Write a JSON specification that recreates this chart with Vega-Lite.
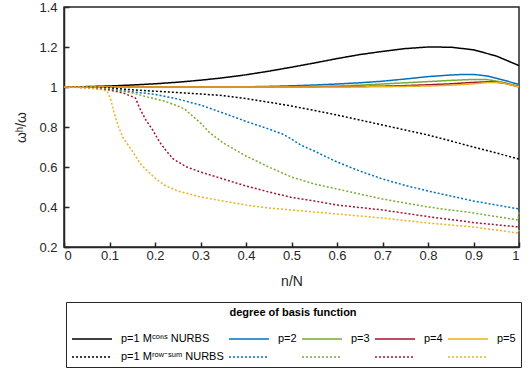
{
"$schema": "https://vega.github.io/schema/vega-lite/v6.json",
"width": 455, "height": 240,
"autosize": {"type": "none"},
"padding": {"left": 64, "top": 7, "right": 11, "bottom": 140},
"background": "white",
"config": {"font": "Liberation Sans", "view": {"stroke": "#262626", "strokeWidth": 1.5},
  "axis": {"domain": true, "ticks": true, "domainColor": "#262626", "tickColor": "#262626", "domainWidth": 1.5, "tickWidth": 1.5, "grid": false}},
"data": {"values": [
{"x":0,"y":1,"s":"c1"},{"x":0.05,"y":1.002,"s":"c1"},{"x":0.1,"y":1.005,"s":"c1"},{"x":0.15,"y":1.01,"s":"c1"},{"x":0.2,"y":1.016,"s":"c1"},{"x":0.25,"y":1.024,"s":"c1"},{"x":0.3,"y":1.034,"s":"c1"},{"x":0.35,"y":1.046,"s":"c1"},{"x":0.4,"y":1.061,"s":"c1"},{"x":0.45,"y":1.079,"s":"c1"},{"x":0.5,"y":1.099,"s":"c1"},{"x":0.55,"y":1.12,"s":"c1"},{"x":0.6,"y":1.142,"s":"c1"},{"x":0.65,"y":1.162,"s":"c1"},{"x":0.7,"y":1.178,"s":"c1"},{"x":0.75,"y":1.192,"s":"c1"},{"x":0.8,"y":1.2,"s":"c1"},{"x":0.85,"y":1.199,"s":"c1"},{"x":0.9,"y":1.186,"s":"c1"},{"x":0.95,"y":1.155,"s":"c1"},{"x":1,"y":1.107,"s":"c1"},
{"x":0,"y":1,"s":"c2"},{"x":0.1,"y":1,"s":"c2"},{"x":0.2,"y":1,"s":"c2"},{"x":0.3,"y":1,"s":"c2"},{"x":0.4,"y":1.001,"s":"c2"},{"x":0.45,"y":1.003,"s":"c2"},{"x":0.5,"y":1.006,"s":"c2"},{"x":0.55,"y":1.01,"s":"c2"},{"x":0.6,"y":1.015,"s":"c2"},{"x":0.65,"y":1.021,"s":"c2"},{"x":0.7,"y":1.029,"s":"c2"},{"x":0.75,"y":1.04,"s":"c2"},{"x":0.8,"y":1.052,"s":"c2"},{"x":0.85,"y":1.06,"s":"c2"},{"x":0.88,"y":1.063,"s":"c2"},{"x":0.9,"y":1.063,"s":"c2"},{"x":0.93,"y":1.055,"s":"c2"},{"x":0.96,"y":1.038,"s":"c2"},{"x":1,"y":1.013,"s":"c2"},
{"x":0,"y":1,"s":"c3"},{"x":0.1,"y":1,"s":"c3"},{"x":0.2,"y":1,"s":"c3"},{"x":0.3,"y":1,"s":"c3"},{"x":0.4,"y":1,"s":"c3"},{"x":0.5,"y":1.001,"s":"c3"},{"x":0.55,"y":1.003,"s":"c3"},{"x":0.6,"y":1.005,"s":"c3"},{"x":0.65,"y":1.009,"s":"c3"},{"x":0.7,"y":1.015,"s":"c3"},{"x":0.75,"y":1.021,"s":"c3"},{"x":0.8,"y":1.027,"s":"c3"},{"x":0.85,"y":1.033,"s":"c3"},{"x":0.9,"y":1.038,"s":"c3"},{"x":0.93,"y":1.037,"s":"c3"},{"x":0.96,"y":1.026,"s":"c3"},{"x":1,"y":1.004,"s":"c3"},
{"x":0,"y":1,"s":"c4"},{"x":0.1,"y":1,"s":"c4"},{"x":0.2,"y":1,"s":"c4"},{"x":0.3,"y":1,"s":"c4"},{"x":0.4,"y":1,"s":"c4"},{"x":0.5,"y":1,"s":"c4"},{"x":0.6,"y":1.001,"s":"c4"},{"x":0.7,"y":1.004,"s":"c4"},{"x":0.75,"y":1.007,"s":"c4"},{"x":0.8,"y":1.011,"s":"c4"},{"x":0.85,"y":1.016,"s":"c4"},{"x":0.9,"y":1.023,"s":"c4"},{"x":0.94,"y":1.027,"s":"c4"},{"x":0.97,"y":1.018,"s":"c4"},{"x":1,"y":1.001,"s":"c4"},
{"x":0,"y":1,"s":"c5"},{"x":0.1,"y":1,"s":"c5"},{"x":0.2,"y":1,"s":"c5"},{"x":0.3,"y":1,"s":"c5"},{"x":0.4,"y":1,"s":"c5"},{"x":0.5,"y":1,"s":"c5"},{"x":0.6,"y":1,"s":"c5"},{"x":0.7,"y":1.001,"s":"c5"},{"x":0.8,"y":1.005,"s":"c5"},{"x":0.85,"y":1.009,"s":"c5"},{"x":0.9,"y":1.016,"s":"c5"},{"x":0.93,"y":1.022,"s":"c5"},{"x":0.96,"y":1.022,"s":"c5"},{"x":0.98,"y":1.012,"s":"c5"},{"x":1,"y":1.0,"s":"c5"},
{"x":0,"y":1,"s":"r1"},{"x":0.05,"y":0.999,"s":"r1"},{"x":0.1,"y":0.995,"s":"r1"},{"x":0.15,"y":0.986,"s":"r1"},{"x":0.2,"y":0.979,"s":"r1"},{"x":0.25,"y":0.972,"s":"r1"},{"x":0.3,"y":0.965,"s":"r1"},{"x":0.35,"y":0.957,"s":"r1"},{"x":0.4,"y":0.942,"s":"r1"},{"x":0.45,"y":0.924,"s":"r1"},{"x":0.5,"y":0.905,"s":"r1"},{"x":0.55,"y":0.883,"s":"r1"},{"x":0.6,"y":0.86,"s":"r1"},{"x":0.65,"y":0.835,"s":"r1"},{"x":0.7,"y":0.81,"s":"r1"},{"x":0.75,"y":0.785,"s":"r1"},{"x":0.8,"y":0.76,"s":"r1"},{"x":0.85,"y":0.73,"s":"r1"},{"x":0.9,"y":0.7,"s":"r1"},{"x":0.95,"y":0.67,"s":"r1"},{"x":1,"y":0.64,"s":"r1"},
{"x":0,"y":1,"s":"r2"},{"x":0.05,"y":0.998,"s":"r2"},{"x":0.1,"y":0.99,"s":"r2"},{"x":0.15,"y":0.976,"s":"r2"},{"x":0.2,"y":0.963,"s":"r2"},{"x":0.25,"y":0.94,"s":"r2"},{"x":0.3,"y":0.91,"s":"r2"},{"x":0.35,"y":0.87,"s":"r2"},{"x":0.4,"y":0.828,"s":"r2"},{"x":0.45,"y":0.79,"s":"r2"},{"x":0.48,"y":0.765,"s":"r2"},{"x":0.5,"y":0.74,"s":"r2"},{"x":0.52,"y":0.71,"s":"r2"},{"x":0.55,"y":0.68,"s":"r2"},{"x":0.6,"y":0.625,"s":"r2"},{"x":0.65,"y":0.58,"s":"r2"},{"x":0.7,"y":0.54,"s":"r2"},{"x":0.75,"y":0.508,"s":"r2"},{"x":0.8,"y":0.48,"s":"r2"},{"x":0.85,"y":0.455,"s":"r2"},{"x":0.9,"y":0.43,"s":"r2"},{"x":0.95,"y":0.41,"s":"r2"},{"x":1,"y":0.39,"s":"r2"},
{"x":0,"y":1,"s":"r3"},{"x":0.05,"y":0.998,"s":"r3"},{"x":0.1,"y":0.99,"s":"r3"},{"x":0.15,"y":0.97,"s":"r3"},{"x":0.18,"y":0.952,"s":"r3"},{"x":0.22,"y":0.93,"s":"r3"},{"x":0.25,"y":0.905,"s":"r3"},{"x":0.265,"y":0.89,"s":"r3"},{"x":0.28,"y":0.86,"s":"r3"},{"x":0.3,"y":0.82,"s":"r3"},{"x":0.32,"y":0.772,"s":"r3"},{"x":0.35,"y":0.72,"s":"r3"},{"x":0.4,"y":0.655,"s":"r3"},{"x":0.45,"y":0.6,"s":"r3"},{"x":0.5,"y":0.55,"s":"r3"},{"x":0.55,"y":0.515,"s":"r3"},{"x":0.6,"y":0.49,"s":"r3"},{"x":0.65,"y":0.465,"s":"r3"},{"x":0.7,"y":0.44,"s":"r3"},{"x":0.75,"y":0.42,"s":"r3"},{"x":0.8,"y":0.4,"s":"r3"},{"x":0.85,"y":0.385,"s":"r3"},{"x":0.9,"y":0.37,"s":"r3"},{"x":0.95,"y":0.352,"s":"r3"},{"x":0.998,"y":0.335,"s":"r3"},{"x":1,"y":0.38,"s":"r3"},
{"x":0,"y":1,"s":"r4"},{"x":0.05,"y":0.997,"s":"r4"},{"x":0.1,"y":0.985,"s":"r4"},{"x":0.13,"y":0.97,"s":"r4"},{"x":0.157,"y":0.945,"s":"r4"},{"x":0.165,"y":0.9,"s":"r4"},{"x":0.18,"y":0.835,"s":"r4"},{"x":0.195,"y":0.785,"s":"r4"},{"x":0.21,"y":0.725,"s":"r4"},{"x":0.225,"y":0.68,"s":"r4"},{"x":0.24,"y":0.64,"s":"r4"},{"x":0.27,"y":0.6,"s":"r4"},{"x":0.3,"y":0.575,"s":"r4"},{"x":0.35,"y":0.54,"s":"r4"},{"x":0.4,"y":0.505,"s":"r4"},{"x":0.45,"y":0.475,"s":"r4"},{"x":0.5,"y":0.448,"s":"r4"},{"x":0.55,"y":0.43,"s":"r4"},{"x":0.6,"y":0.41,"s":"r4"},{"x":0.7,"y":0.385,"s":"r4"},{"x":0.8,"y":0.352,"s":"r4"},{"x":0.9,"y":0.322,"s":"r4"},{"x":1,"y":0.3,"s":"r4"},
{"x":0,"y":1,"s":"r5"},{"x":0.05,"y":0.995,"s":"r5"},{"x":0.08,"y":0.988,"s":"r5"},{"x":0.095,"y":0.98,"s":"r5"},{"x":0.103,"y":0.935,"s":"r5"},{"x":0.11,"y":0.87,"s":"r5"},{"x":0.12,"y":0.8,"s":"r5"},{"x":0.13,"y":0.745,"s":"r5"},{"x":0.15,"y":0.68,"s":"r5"},{"x":0.17,"y":0.61,"s":"r5"},{"x":0.2,"y":0.545,"s":"r5"},{"x":0.22,"y":0.51,"s":"r5"},{"x":0.25,"y":0.48,"s":"r5"},{"x":0.3,"y":0.45,"s":"r5"},{"x":0.35,"y":0.43,"s":"r5"},{"x":0.4,"y":0.41,"s":"r5"},{"x":0.45,"y":0.395,"s":"r5"},{"x":0.5,"y":0.385,"s":"r5"},{"x":0.6,"y":0.365,"s":"r5"},{"x":0.7,"y":0.345,"s":"r5"},{"x":0.8,"y":0.32,"s":"r5"},{"x":0.9,"y":0.3,"s":"r5"},{"x":0.998,"y":0.27,"s":"r5"},{"x":1,"y":0.285,"s":"r5"}
]},
"mark": {"type": "line"},
"encoding": {
"x": {"field": "x", "type": "quantitative", "scale": {"domain": [0, 1], "nice": false, "zero": false},
  "axis": {"orient": "bottom", "values": [0,0.1,0.2,0.3,0.4,0.5,0.6,0.7,0.8,0.9,1], "format": "~g", "title": "n/N",
  "tickSize": -5, "labelPadding": 7, "labelFontSize": 13, "labelColor": "#262626",
  "titleFont": "Liberation Sans", "titleFontWeight": "normal", "titleFontSize": 14, "titleColor": "#262626", "titlePadding": 12}},
"y": {"field": "y", "type": "quantitative", "scale": {"domain": [0.2, 1.4], "nice": false, "zero": false},
  "axis": {"orient": "left", "values": [0.2,0.4,0.6,0.8,1,1.2,1.4], "format": "~g", "title": "ωʰ/ω",
  "tickSize": -5, "labelPadding": 12, "labelFontSize": 13, "labelColor": "#262626",
  "titleFont": "Liberation Sans", "titleFontWeight": "normal", "titleFontSize": 14, "titleColor": "#262626", "titlePadding": 10}},
"color": {"field": "s", "type": "nominal",
  "scale": {"domain": ["c1","c2","c3","c4","c5","r1","r2","r3","r4","r5"],
    "range": ["#000000","#0072BD","#77AC30","#A2142F","#EDB120","#000000","#0072BD","#77AC30","#A2142F","#EDB120"]},
  "legend": {"orient": "none", "legendX": 2, "legendY": 295, "columns": 5, "direction": "horizontal", "gridAlign": "each",
    "title": "degree of basis function", "titleFontSize": 11, "titleFontWeight": "bold", "titleColor": "#000000", "titleAnchor": "middle", "titlePadding": 10,
    "symbolType": "M-2,0H2", "symbolSize": 400, "symbolOffset": 10, "symbolStrokeWidth": 1.6, "labelFontSize": 11, "labelColor": "#000000", "labelOffset": 18,
    "columnPadding": 2, "rowPadding": 2, "padding": 5, "strokeColor": "#262626", "fillColor": "white",
    "labelExpr": "datum.value == 'c1' ? 'p=1 Mᶜᵒⁿˢ NURBS' : datum.value == 'r1' ? 'p=1 Mʳᵒʷ⁻ˢᵘᵐ NURBS' : datum.value == 'c2' ? 'p=2' : datum.value == 'c3' ? 'p=3' : datum.value == 'c4' ? 'p=4' : datum.value == 'c5' ? 'p=5' : ''"}},
"strokeDash": {"field": "s", "type": "nominal",
  "scale": {"domain": ["c1","c2","c3","c4","c5","r1","r2","r3","r4","r5"],
    "range": [[1,0],[1,0],[1,0],[1,0],[1,0],[2,2],[2,2],[2,2],[2,2],[2,2]]}},
"strokeWidth": {"field": "s", "type": "nominal", "legend": null,
  "scale": {"domain": ["c1","c2","c3","c4","c5","r1","r2","r3","r4","r5"],
    "range": [1.5,1.5,1.5,1.5,1.5,2,2,2,2,2]}}
}
}
